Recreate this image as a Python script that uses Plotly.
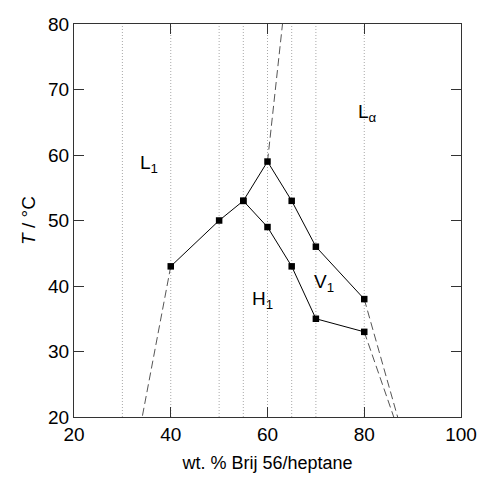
import plotly.graph_objects as go

# Phase boundary data (wt. % Brij 56 in heptane, temperature in °C)
upper_x = [40, 50, 55, 60, 65, 70, 80]
upper_t = [43, 50, 53, 59, 53, 46, 38]
lower_x = [55, 60, 65, 70, 80]
lower_t = [53, 49, 43, 35, 33]

# Extrapolated (dashed) boundaries: start point -> end point
ext_lines = [
    ([40, 34.1], [43, 20]),
    ([60, 63.1], [59, 80]),
    ([80, 86.9], [38, 20]),
    ([80, 86.1], [33, 20]),
]

# Compositions that were sampled (dotted guides)
sample_x = [30, 40, 50, 55, 60, 65, 70, 80]

# Phase labels
phase_text = ["L<sub>1</sub>", "L<sub>α</sub>", "H<sub>1</sub>", "V<sub>1</sub>"]
phase_x = [33.2, 78.2, 56.4, 69.2]
phase_t = [58.7, 66.4, 37.8, 40.5]

x_ticks = [20, 40, 60, 80, 100]
t_ticks = [20, 30, 40, 50, 60, 70, 80]

FONT = "Liberation Sans, Arial, sans-serif"

fig = go.Figure()

for sx in sample_x:
    fig.add_trace(go.Scatter(
        x=[sx, sx], y=[20, 80], mode="lines",
        line=dict(color="#a8a8a8", width=1, dash="1px,2px"),
        hoverinfo="skip", showlegend=False))

for ex, et in ext_lines:
    fig.add_trace(go.Scatter(
        x=ex, y=et, mode="lines",
        line=dict(color="#555555", width=1, dash="8px,4px"),
        hoverinfo="skip", showlegend=False))

for xs, ts in [(upper_x, upper_t), (lower_x, lower_t)]:
    fig.add_trace(go.Scatter(
        x=xs, y=ts, mode="lines+markers",
        line=dict(color="black", width=1),
        marker=dict(symbol="square", size=6.5, color="black"),
        showlegend=False))

for txt, px, pt in zip(phase_text, phase_x, phase_t):
    fig.add_annotation(x=px, y=pt, text=txt, showarrow=False,
                       xanchor="left", yanchor="middle",
                       font=dict(family=FONT, size=19, color="black"))

axis_common = dict(
    showgrid=False, zeroline=False, showline=True, linecolor="#333333",
    linewidth=1, mirror="ticks", ticks="inside", ticklen=10,
    tickcolor="#333333", tickfont=dict(family=FONT, size=19, color="black"),
    automargin=False,
)

fig.update_xaxes(range=[20, 100], tickvals=x_ticks,
                 title=dict(text="wt. % Brij 56/heptane", standoff=12,
                            font=dict(family=FONT, size=18, color="black")),
                 **axis_common)
fig.update_yaxes(range=[20, 80], tickvals=t_ticks,
                 title=dict(text="<i>T</i> / °C", standoff=7,
                            font=dict(family=FONT, size=19, color="black")),
                 **axis_common)

fig.update_layout(
    width=480, height=482,
    margin=dict(l=74, r=19, t=24, b=65),
    paper_bgcolor="white", plot_bgcolor="white",
)

fig.write_html("out.html")
